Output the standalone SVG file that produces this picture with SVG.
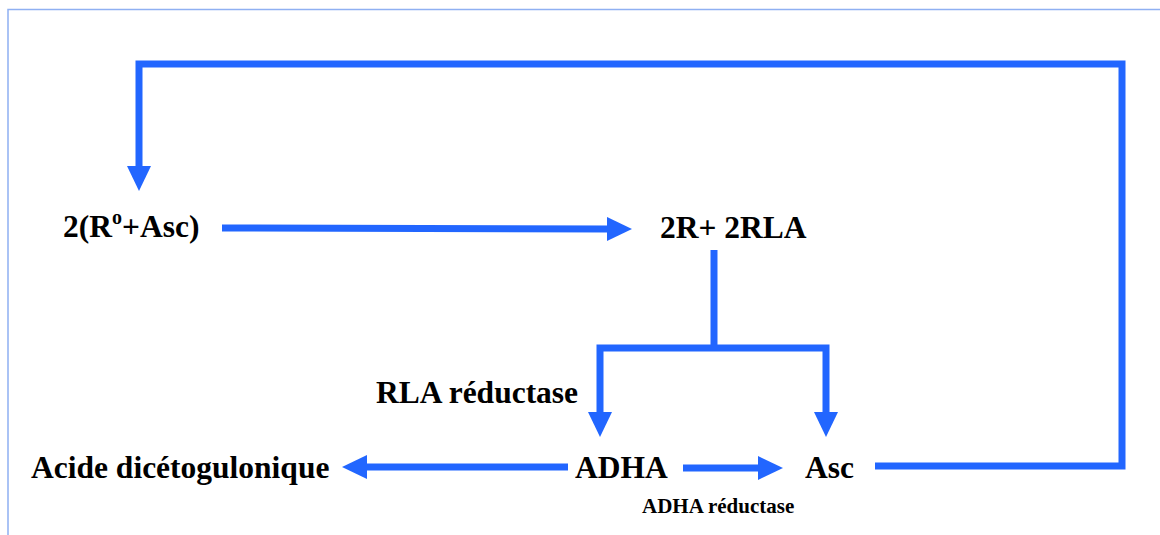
<svg xmlns="http://www.w3.org/2000/svg" width="1160" height="535" viewBox="0 0 1160 535">
  <style>
    .lbl { font-family: "Liberation Serif", "Times New Roman", serif; font-weight: bold; fill: #000; }
    .big { font-size: 31.5px; }
    .small { font-size: 21px; }
    .conn { fill: none; stroke: #2266FF; stroke-width: 7; stroke-linejoin: miter; stroke-linecap: butt; }
    .frame { fill: none; stroke: #8FB0F2; stroke-width: 1.5; }
  </style>
  <defs>
    <marker id="ah" markerUnits="userSpaceOnUse" markerWidth="25" markerHeight="24" viewBox="0 0 25 24" refX="1" refY="12" orient="auto">
      <path d="M0,0 L25,12 L0,24 z" fill="#2266FF"/>
    </marker>
  </defs>
  <rect width="1160" height="535" fill="#fff"/>
  <path class="frame" d="M8,535 V9.5 H1160"/>

  <g id="connectors">
    <path class="conn" d="M875,466 H1122 V64 H139 V167" marker-end="url(#ah)"/>
    <path class="conn" d="M222,228 L608,229" marker-end="url(#ah)"/>
    <path class="conn" d="M714,250 V348"/>
    <path class="conn" d="M714,348 H600 V413" marker-end="url(#ah)"/>
    <path class="conn" d="M714,348 H826 V413" marker-end="url(#ah)"/>
    <path class="conn" d="M568,467 H366" marker-end="url(#ah)"/>
    <path class="conn" d="M683,468 H759" marker-end="url(#ah)"/>
  </g>

  <g id="node-reactants">
    <text class="lbl big" x="63" y="237">2(R<tspan font-size="20" dy="-13">o</tspan><tspan dy="13">+Asc)</tspan></text>
  </g>
  <g id="node-products">
    <text class="lbl big" x="660" y="238">2R+ 2RLA</text>
  </g>
  <g id="node-rla-reductase">
    <text class="lbl big" x="376" y="403">RLA réductase</text>
  </g>
  <g id="node-acide">
    <text class="lbl big" x="31" y="478">Acide dicétogulonique</text>
  </g>
  <g id="node-adha">
    <text class="lbl big" x="575" y="478">ADHA</text>
  </g>
  <g id="node-asc">
    <text class="lbl big" x="805" y="478">Asc</text>
  </g>
  <g id="node-adha-reductase">
    <text class="lbl small" x="642" y="513">ADHA réductase</text>
  </g>
</svg>
